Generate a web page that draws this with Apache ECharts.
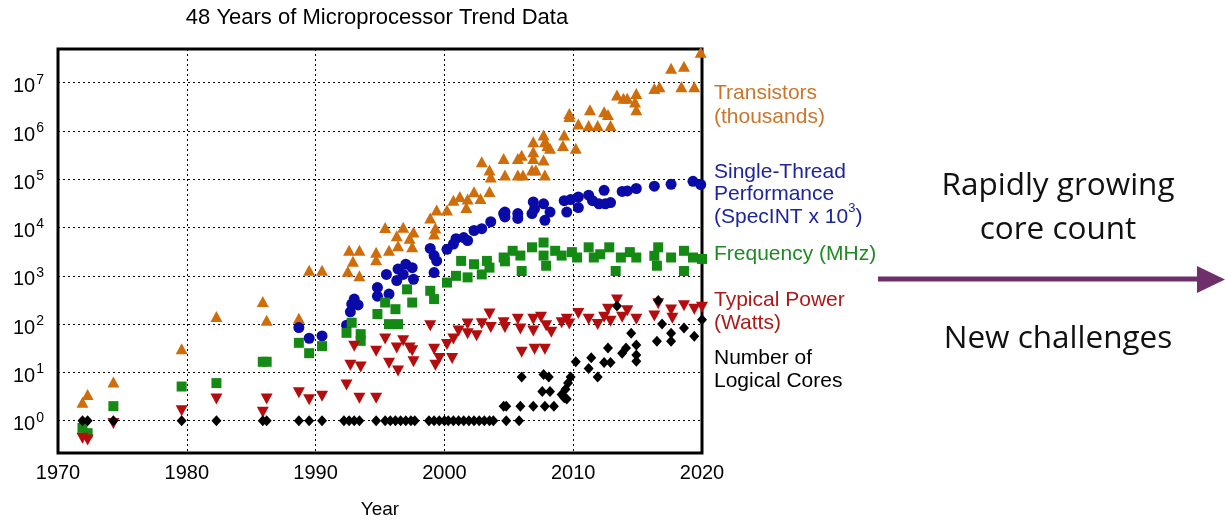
<!DOCTYPE html>
<html><head><meta charset="utf-8">
<script src="https://cdn.jsdelivr.net/npm/echarts@6/dist/echarts.min.js"></script>
<style>html,body{margin:0;padding:0;background:#fff}#c{width:1225px;height:522px}</style>
</head><body><div id="c"></div>
<script>
const title = '48 Years of Microprocessor Trend Data';
const xTicks = [1970, 1980, 1990, 2000, 2010, 2020];
const yMin = 0.214, yMax = 5.0e7;

const transistors = [[1971.9,2.4],[1972.3,3.5],[1974.3,6.3],[1979.6,31],[1982.3,144],[1985.9,295],[1986.2,120],[1988.7,132],
[1989.5,1300],[1990.5,1300],[1992.5,1250],[1992.6,3400],[1992.9,2000],[1993.4,3400],[1993.4,1000],[1994.7,3100],[1994.7,2150],
[1995.4,10000],[1995.7,3400],[1996.3,6800],[1996.4,4200],[1996.8,10200],[1997.3,6000],[1997.5,4000],[1997.6,8100],[1998.9,15800],
[1999.2,7400],[1999.3,9800],[1999.4,23000],[2000.2,23000],[2000.7,37000],[2001.2,44000],[2001.7,26000],[2001.8,39000],[2002.3,55000],
[2002.8,40000],[2002.9,230000],[2003.5,155000],[2003.6,112000],[2003.5,56000],[2004.6,270000],[2004.7,123000],[2005.7,270000],
[2006.0,316000],[2005.7,123000],[2006.1,123000],[2006.9,600000],[2006.9,370000],[2006.9,270000],[2006.8,155000],[2007.1,155000],
[2007.7,830000],[2007.8,600000],[2008.0,500000],[2008.2,440000],[2007.7,250000],[2007.8,123000],[2009.3,830000],[2009.2,500000],
[2010.2,440000],[2009.7,2.3e6],[2009.7,2.0e6],[2010.4,1.4e6],[2011.2,1.3e6],[2011.3,2.75e6],[2011.9,1.3e6],[2012.4,2.5e6],
[2012.7,2.2e6],[2012.9,1.3e6],[2013.4,5.6e6],[2013.9,4.8e6],[2014.2,4.8e6],[2014.8,4.0e6],[2014.9,6.0e6],[2014.9,2.75e6],
[2016.3,7.6e6],[2016.7,8.3e6],[2017.6,2.0e7],[2018.6,2.2e7],[2018.4,8.3e6],[2019.4,8.3e6],[2019.9,4.3e7]];

const performance = [[1988.7,85],[1989.5,51],[1990.5,57],[1992.4,95],[1992.7,180],[1992.8,260],[1993.0,330],[1993.3,250],
[1994.8,380],[1994.8,575],[1995.7,420],[1995.5,1070],[1996.3,800],[1996.4,1380],[1997.0,1740],[1997.5,1480],[1997.6,850],
[1996.8,1070],[1998.9,3700],[1999.2,2630],[1999.4,2040],[1999.2,1170],[2000.2,3550],[2000.7,4570],[2000.9,5900],[2001.5,6200],
[2001.8,5400],[2002.3,8700],[2002.9,9500],[2003.6,13200],[2004.6,19500],[2004.7,21000],[2004.7,16600],[2005.7,19500],
[2005.7,15500],[2006.8,19500],[2006.9,34000],[2007.0,24500],[2007.7,31000],[2007.8,14100],[2008.2,21000],[2009.3,36000],
[2009.5,21000],[2009.8,38000],[2010.4,43000],[2010.4,26000],[2011.2,47000],[2011.5,36000],[2012.0,31000],[2012.4,59000],
[2012.5,31000],[2012.9,33000],[2013.8,56000],[2014.2,57500],[2014.9,64500],[2016.3,72000],[2017.6,79000],[2019.3,91000],[2019.9,78000]];

const frequency = [[1971.9,0.71],[1972.3,0.55],[1974.3,2.0],[1979.6,5.1],[1982.3,6.0],[1985.9,16.6],[1986.2,16.6],[1988.7,41],
[1989.5,25],[1990.5,35],[1992.4,66],[1992.8,107],[1993.5,62],[1993.5,45],[1994.8,162],[1995.4,280],[1996.2,204],[1995.7,100],
[1996.4,100],[1997.1,525],[1997.5,280],[1998.9,490],[1999.2,330],[2000.2,725],[2000.9,1000],[2001.3,2040],[2001.8,930],
[2002.3,1740],[2002.9,1070],[2003.3,2040],[2003.5,1480],[2004.6,2400],[2004.7,2000],[2005.3,3300],[2005.9,2630],[2006.0,1260],
[2006.8,3900],[2007.7,4900],[2007.7,2630],[2007.9,1620],[2008.6,3300],[2009.1,2630],[2009.9,3100],[2010.3,2400],[2011.2,3900],
[2011.6,2400],[2012.1,2800],[2012.8,3900],[2013.3,1260],[2013.7,2400],[2014.4,3100],[2014.9,2400],[2016.6,3900],[2016.5,1620],
[2016.3,2600],[2017.6,2400],[2018.6,3300],[2018.6,1260],[2019.3,2400],[2020.0,2240]];

const power = [[1971.9,0.43],[1972.3,0.40],[1974.3,0.87],[1979.6,1.6],[1982.3,2.8],[1985.9,1.5],[1986.2,2.8],[1988.7,3.8],
[1989.5,2.7],[1990.5,3.2],[1992.4,5.5],[1992.7,14],[1993.0,35],[1993.5,13],[1993.4,2.9],[1994.7,2.9],[1994.7,27.5],[1995.4,49],
[1995.7,15.5],[1996.3,32],[1996.4,10.7],[1996.8,45],[1997.3,32],[1997.6,16.6],[1997.5,28],[1998.9,93],[1999.2,30],[1999.3,14],
[1999.6,19.5],[2000.2,38],[2000.6,19.5],[2000.7,49],[2001.1,72],[2001.8,100],[2001.8,63],[2002.5,57.5],[2002.9,102],[2003.5,162],
[2003.6,85],[2004.6,107],[2004.7,85],[2005.7,126],[2005.9,79],[2006.0,26],[2006.9,126],[2006.9,72],[2007.0,30],[2007.5,138],
[2007.8,30],[2007.9,93],[2008.3,68],[2009.1,107],[2009.5,126],[2009.7,100],[2010.4,166],[2011.2,126],[2011.9,98],[2012.4,138],
[2012.7,204],[2012.9,115],[2013.4,316],[2013.8,138],[2014.2,190],[2014.9,126],[2016.3,148],[2016.6,263],[2017.6,195],[2017.7,132],
[2018.6,240],[2019.4,204],[2020.0,224]];

const cores = [[1971.9,1],[1972.3,1],[1974.3,1],[1979.6,1],[1982.3,1],[1985.9,1],[1986.2,1],[1988.7,1],[1989.5,1],[1990.5,1],
[1992.2,1],[1992.6,1],[1993.0,1],[1993.4,1],[1994.7,1],[1995.4,1],[1995.8,1],[1996.2,1],[1996.6,1],[1997.0,1],[1997.4,1],[1997.7,1],
[1998.8,1],[1999.2,1],[1999.6,1],[2000.0,1],[2000.3,1],[2000.7,1],[2001.1,1],[2001.5,1],[2001.9,1],[2002.3,1],[2002.7,1],[2003.1,1],
[2003.5,1],[2003.8,1],[2004.8,1],[2005.8,1],[2004.6,2],[2004.8,2],[2005.9,2],[2006.9,2],[2007.8,2],[2008.5,2],[2006.0,8],[2007.7,9],
[2008.1,8],[2007.6,4],[2008.2,4],[2009.1,3.5],[2009.3,3],[2009.4,4.5],[2009.6,6],[2009.8,8],[2009.5,2.8],[2010.2,16.7],[2011.2,12],
[2011.4,20],[2011.9,8],[2012.4,16],[2012.7,32],[2012.9,16],[2013.4,236],[2013.8,25],[2014.1,32],[2014.5,65],[2014.9,37],[2014.9,23],
[2014.9,17],[2016.5,44],[2016.6,308],[2016.9,100],[2017.6,65],[2017.6,44],[2018.6,83],[2019.4,56],[2020.0,123]];

const C = {orange:'#cf6d0a', blue:'#0a0aa8', green:'#148a14', red:'#b50d0d', black:'#000000'};
const TC = {orange:'#cc7428', blue:'#1d249e', green:'#1f8a24', red:'#b01818', black:'#000000'};
const F = '"Liberation Sans", Arial, sans-serif';
const RF = '"Open Sans", sans-serif';

const chart = echarts.init(document.getElementById('c'), null, {renderer:'canvas'});

function txt(x, y, s, color, size, font, align) {
  return {type:'text', x: x, y: y, style:{text:s, fill:color, font: (size)+'px '+(font||F), textAlign: align||'left', textVerticalAlign:'middle'}};
}

chart.setOption({
  animation:false,
  title:{text:title, left:372, top:2, textAlign:'center', textStyle:{fontFamily:F, fontSize:22, fontWeight:'normal', color:'#000'}},
  grid:{left:58, right:523, top:49, bottom:69, outerBoundsMode:'none', containLabel:false, show:true, borderColor:'#000', borderWidth:3, backgroundColor:'transparent'},
  xAxis:{type:'value', min:1970, max:2020, interval:10,
    axisLine:{show:false}, axisTick:{show:false},
    axisLabel:{fontFamily:F, fontSize:20, color:'#000', margin:10, formatter:function(v){return String(v);}},
    splitLine:{show:true, lineStyle:{color:'#000', type:[2,3], width:1}},
    name:'Year', nameLocation:'middle', nameGap:47, nameTextStyle:{fontFamily:F, fontSize:19, color:'#000'}},
  yAxis:{type:'log', logBase:10, min:yMin, max:yMax,
    axisLine:{show:false}, axisTick:{show:false},
    axisLabel:{showMinLabel:false, showMaxLabel:false, margin:14,
      formatter:function(v){const l=Math.log10(v), e=Math.round(l); if(Math.abs(l-e)>0.01) return ''; return '{b|10}{s|'+e+'}';},
      rich:{b:{fontFamily:F, fontSize:20, color:'#000', lineHeight:28, verticalAlign:'bottom'}, s:{fontFamily:F, fontSize:14, color:'#000', lineHeight:28, verticalAlign:'top', padding:[4,0,0,1]}}},
    splitLine:{show:true, lineStyle:{color:'#000', type:[2,3], width:1}}},
  series:[
    {type:'scatter', data:transistors, symbol:'triangle', symbolSize:[12,11], itemStyle:{color:C.orange, opacity:1}},
    {type:'scatter', data:performance, symbol:'circle', symbolSize:11, itemStyle:{color:C.blue, opacity:1}},
    {type:'scatter', data:frequency, symbol:'rect', symbolSize:10, itemStyle:{color:C.green, opacity:1}},
    {type:'scatter', data:power, symbol:'triangle', symbolRotate:180, symbolSize:[12,11], itemStyle:{color:C.red, opacity:1}},
    {type:'scatter', data:cores, symbol:'diamond', symbolSize:[10,11], itemStyle:{color:C.black, opacity:1}}
  ],
  graphic:[
    txt(714, 93, 'Transistors', TC.orange, 21),
    txt(714, 117, '(thousands)', TC.orange, 21),
    txt(714, 172, 'Single-Thread', TC.blue, 21),
    txt(714, 194, 'Performance', TC.blue, 21),
    {type:'text', x:714, y:215, style:{rich:{a:{fill:TC.blue, font:'21px '+F, verticalAlign:'bottom', lineHeight:26}, s:{fill:TC.blue, font:'13px '+F, verticalAlign:'top', lineHeight:26}}, text:'{a|(SpecINT x 10}{s|3}{a|)}', textVerticalAlign:'middle'}},
    txt(714, 254, 'Frequency (MHz)', TC.green, 21),
    txt(714, 300, 'Typical Power', TC.red, 21),
    txt(714, 323, '(Watts)', TC.red, 21),
    txt(714, 358, 'Number of', TC.black, 21),
    txt(714, 381, 'Logical Cores', TC.black, 21),
    {type:'line', shape:{x1:878, y1:279, x2:1202, y2:279}, style:{stroke:'#6e2f6b', lineWidth:5}},
    {type:'polygon', shape:{points:[[1197,266],[1225,279.5],[1197,293]]}, style:{fill:'#6e2f6b'}},
    txt(1058, 186, 'Rapidly growing', '#111', 31.5, RF, 'center'),
    txt(1058, 230, 'core count', '#111', 31.5, RF, 'center'),
    txt(1058, 339, 'New challenges', '#111', 31.5, RF, 'center')
  ]
});
</script></body></html>
